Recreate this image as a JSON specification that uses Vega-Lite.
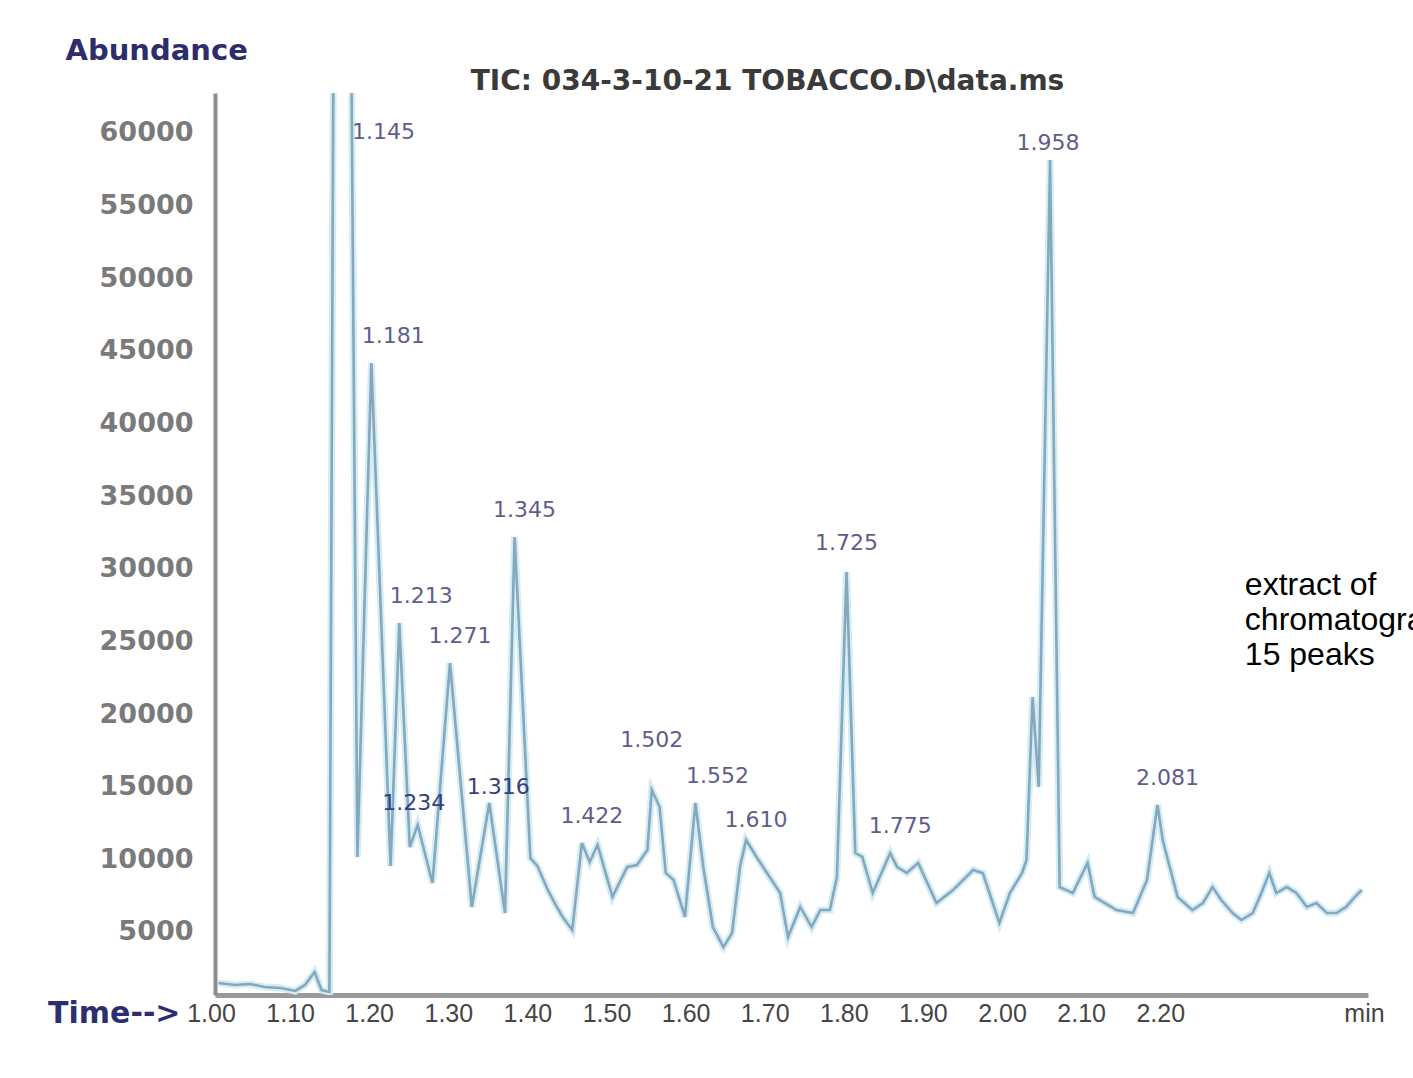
{
  "$schema": "https://vega.github.io/schema/vega-lite/v6.json",
  "autosize": {"type": "none"},
  "width": 1153,
  "height": 902,
  "padding": {"left": 215, "top": 93, "right": 45, "bottom": 83},
  "background": "white",
  "config": {"view": {"stroke": null}, "text": {"font": "DejaVu Sans", "fontSize": 22, "color": "#5e5e8a", "baseline": "middle", "align": "center"}},
  "title": {"text": "TIC: 034-3-10-21 TOBACCO.D\\data.ms", "font": "DejaVu Sans", "fontSize": 28, "fontWeight": "bold", "color": "#3a3a3a", "anchor": "middle", "frame": "group", "dx": -24, "dy": 84, "offset": 2, "baseline": "alphabetic"},
  "datasets": {
    "tic": [
      {"t": 1.006, "a": 1490}, {"t": 1.025, "a": 1350}, {"t": 1.042, "a": 1420}, {"t": 1.059, "a": 1210},
      {"t": 1.077, "a": 1140}, {"t": 1.094, "a": 940}, {"t": 1.105, "a": 1350}, {"t": 1.116, "a": 2240},
      {"t": 1.124, "a": 1000}, {"t": 1.133, "a": 870}, {"t": 1.145, "a": 170000}, {"t": 1.165, "a": 10160},
      {"t": 1.181, "a": 44160}, {"t": 1.203, "a": 9540}, {"t": 1.213, "a": 26270}, {"t": 1.225, "a": 10850},
      {"t": 1.234, "a": 12360}, {"t": 1.251, "a": 8370}, {"t": 1.271, "a": 23510}, {"t": 1.296, "a": 6720},
      {"t": 1.316, "a": 13880}, {"t": 1.334, "a": 6300}, {"t": 1.345, "a": 32190}, {"t": 1.363, "a": 10090},
      {"t": 1.371, "a": 9550}, {"t": 1.383, "a": 7890}, {"t": 1.392, "a": 6860}, {"t": 1.400, "a": 6030},
      {"t": 1.411, "a": 5130}, {"t": 1.422, "a": 11120}, {"t": 1.431, "a": 9820}, {"t": 1.440, "a": 10990},
      {"t": 1.457, "a": 7410}, {"t": 1.474, "a": 9470}, {"t": 1.485, "a": 9610}, {"t": 1.497, "a": 10640},
      {"t": 1.502, "a": 14770}, {"t": 1.511, "a": 13600}, {"t": 1.518, "a": 9060}, {"t": 1.527, "a": 8580},
      {"t": 1.540, "a": 6030}, {"t": 1.552, "a": 13880}, {"t": 1.561, "a": 9470}, {"t": 1.572, "a": 5340},
      {"t": 1.584, "a": 3960}, {"t": 1.594, "a": 4930}, {"t": 1.603, "a": 9470}, {"t": 1.610, "a": 11330},
      {"t": 1.622, "a": 10160}, {"t": 1.634, "a": 9060}, {"t": 1.649, "a": 7680}, {"t": 1.658, "a": 4650},
      {"t": 1.672, "a": 6720}, {"t": 1.685, "a": 5340}, {"t": 1.695, "a": 6510}, {"t": 1.706, "a": 6510},
      {"t": 1.714, "a": 8780}, {"t": 1.725, "a": 29780}, {"t": 1.735, "a": 10430}, {"t": 1.743, "a": 10160},
      {"t": 1.755, "a": 7680}, {"t": 1.775, "a": 10430}, {"t": 1.783, "a": 9470}, {"t": 1.794, "a": 9060},
      {"t": 1.807, "a": 9750}, {"t": 1.828, "a": 6990}, {"t": 1.847, "a": 7890}, {"t": 1.870, "a": 9260},
      {"t": 1.881, "a": 9060}, {"t": 1.900, "a": 5620}, {"t": 1.912, "a": 7680}, {"t": 1.926, "a": 9060},
      {"t": 1.931, "a": 9950}, {"t": 1.938, "a": 21170}, {"t": 1.945, "a": 14980}, {"t": 1.958, "a": 58130},
      {"t": 1.969, "a": 8090}, {"t": 1.984, "a": 7680}, {"t": 2.001, "a": 9750}, {"t": 2.009, "a": 7410},
      {"t": 2.034, "a": 6510}, {"t": 2.053, "a": 6300}, {"t": 2.069, "a": 8580}, {"t": 2.081, "a": 13740},
      {"t": 2.087, "a": 11330}, {"t": 2.095, "a": 9470}, {"t": 2.104, "a": 7410}, {"t": 2.121, "a": 6510},
      {"t": 2.133, "a": 6990}, {"t": 2.144, "a": 8090}, {"t": 2.154, "a": 7200}, {"t": 2.167, "a": 6300},
      {"t": 2.177, "a": 5820}, {"t": 2.190, "a": 6300}, {"t": 2.200, "a": 7680}, {"t": 2.209, "a": 9060},
      {"t": 2.217, "a": 7680}, {"t": 2.229, "a": 8090}, {"t": 2.240, "a": 7680}, {"t": 2.252, "a": 6720},
      {"t": 2.263, "a": 6990}, {"t": 2.275, "a": 6300}, {"t": 2.286, "a": 6300}, {"t": 2.297, "a": 6720},
      {"t": 2.307, "a": 7410}, {"t": 2.315, "a": 7890}
    ],
    "peaks": [
      {"rt": 1.145, "apex": 170000}, {"rt": 1.181, "apex": 44160}, {"rt": 1.213, "apex": 26270},
      {"rt": 1.234, "apex": 12360}, {"rt": 1.271, "apex": 23510}, {"rt": 1.316, "apex": 13880},
      {"rt": 1.345, "apex": 32190}, {"rt": 1.422, "apex": 11120}, {"rt": 1.502, "apex": 14770},
      {"rt": 1.552, "apex": 13880}, {"rt": 1.610, "apex": 11330}, {"rt": 1.725, "apex": 29780},
      {"rt": 1.775, "apex": 10430}, {"rt": 1.958, "apex": 58130}, {"rt": 2.081, "apex": 13740}
    ]
  },
  "layer": [
    {
      "data": {"name": "tic"},
      "mark": {"type": "line", "clip": true, "stroke": "#d4ecf6", "strokeWidth": 7},
      "encoding": {
        "x": {"field": "t", "type": "quantitative",
          "scale": {"domain": [1.002, 2.322], "nice": false, "zero": false},
          "axis": {
            "values": [1.002, 1.0926, 1.1831, 1.2737, 1.3642, 1.4548, 1.5454, 1.6359, 1.7265, 1.817, 1.9076, 1.9982, 2.0887, 2.322],
            "labelExpr": "datum.value > 2.3 ? 'min' : format(1 + round((datum.value - 1.002) / 0.09056) / 10, '.2f')",
            "grid": false, "ticks": false, "tickSize": 0,
            "domainColor": "#9a9a9a", "domainWidth": 5,
            "labelFont": "Liberation Sans", "labelFontSize": 25, "labelColor": "#454545",
            "labelBaseline": "middle", "labelPadding": 18, "labelOffset": -4,
            "labelFlush": false, "labelOverlap": false, "labelBound": false,
            "title": "Time-->", "titleFont": "DejaVu Sans", "titleFontSize": 30, "titleFontWeight": "bold",
            "titleColor": "#2d2d72", "titleAlign": "right", "titleAnchor": "start", "titleBaseline": "middle",
            "titleX": -35, "titleY": 18
          }},
        "y": {"field": "a", "type": "quantitative",
          "scale": {"domain": [660, 62750], "nice": false, "zero": false},
          "axis": {
            "values": [5000, 10000, 15000, 20000, 25000, 30000, 35000, 40000, 45000, 50000, 55000, 60000],
            "format": "d",
            "grid": false, "ticks": false, "tickSize": 0,
            "domainColor": "#8c8c8c", "domainWidth": 4,
            "labelFont": "DejaVu Sans", "labelFontSize": 27, "labelFontWeight": "bold", "labelColor": "#7a7a7a",
            "labelPadding": 22, "labelFlush": false, "labelOverlap": false, "labelBound": false,
            "title": "Abundance", "titleFont": "DejaVu Sans", "titleFontSize": 29, "titleFontWeight": "bold",
            "titleColor": "#2d2d6e", "titleAngle": 0, "titleAlign": "left", "titleBaseline": "middle",
            "titleX": -150, "titleY": -43
          }}
      }
    },
    {
      "data": {"name": "tic"},
      "mark": {"type": "line", "clip": true, "stroke": "#85a8bb", "strokeWidth": 2.6},
      "encoding": {
        "x": {"field": "t", "type": "quantitative"},
        "y": {"field": "a", "type": "quantitative"}
      }
    },
    {
      "data": {"name": "peaks"},
      "transform": [{"filter": "indexof([1.271, 1.345, 1.422, 1.775, 2.081], datum.rt) >= 0"}],
      "mark": {"type": "text", "dx": 10, "dy": -27},
      "encoding": {
        "x": {"field": "rt", "type": "quantitative"},
        "y": {"field": "apex", "type": "quantitative"},
        "text": {"field": "rt", "type": "quantitative", "format": ".3f"}
      }
    },
    {
      "data": {"name": "peaks"},
      "transform": [{"filter": "indexof([1.181, 1.213, 1.552], datum.rt) >= 0"}],
      "mark": {"type": "text", "dx": 22, "dy": -27},
      "encoding": {
        "x": {"field": "rt", "type": "quantitative"},
        "y": {"field": "apex", "type": "quantitative"},
        "text": {"field": "rt", "type": "quantitative", "format": ".3f"}
      }
    },
    {
      "data": {"name": "peaks"},
      "transform": [{"filter": "datum.rt == 1.725"}],
      "mark": {"type": "text", "dx": 0, "dy": -29},
      "encoding": {
        "x": {"field": "rt", "type": "quantitative"},
        "y": {"field": "apex", "type": "quantitative"},
        "text": {"field": "rt", "type": "quantitative", "format": ".3f"}
      }
    },
    {
      "data": {"name": "peaks"},
      "transform": [{"filter": "datum.rt == 1.958"}],
      "mark": {"type": "text", "dx": -2, "dy": -17},
      "encoding": {
        "x": {"field": "rt", "type": "quantitative"},
        "y": {"field": "apex", "type": "quantitative"},
        "text": {"field": "rt", "type": "quantitative", "format": ".3f"}
      }
    },
    {
      "data": {"name": "peaks"},
      "transform": [{"filter": "datum.rt == 1.502"}],
      "mark": {"type": "text", "dx": 0, "dy": -50},
      "encoding": {
        "x": {"field": "rt", "type": "quantitative"},
        "y": {"field": "apex", "type": "quantitative"},
        "text": {"field": "rt", "type": "quantitative", "format": ".3f"}
      }
    },
    {
      "data": {"name": "peaks"},
      "transform": [{"filter": "datum.rt == 1.610"}],
      "mark": {"type": "text", "dx": 10, "dy": -20},
      "encoding": {
        "x": {"field": "rt", "type": "quantitative"},
        "y": {"field": "apex", "type": "quantitative"},
        "text": {"field": "rt", "type": "quantitative", "format": ".3f"}
      }
    },
    {
      "data": {"name": "peaks"},
      "transform": [{"filter": "datum.rt == 1.234"}],
      "mark": {"type": "text", "dx": -4, "dy": -22, "color": "#34407e"},
      "encoding": {
        "x": {"field": "rt", "type": "quantitative"},
        "y": {"field": "apex", "type": "quantitative"},
        "text": {"field": "rt", "type": "quantitative", "format": ".3f"}
      }
    },
    {
      "data": {"name": "peaks"},
      "transform": [{"filter": "datum.rt == 1.316"}],
      "mark": {"type": "text", "dx": 9, "dy": -16, "color": "#34407e"},
      "encoding": {
        "x": {"field": "rt", "type": "quantitative"},
        "y": {"field": "apex", "type": "quantitative"},
        "text": {"field": "rt", "type": "quantitative", "format": ".3f"}
      }
    },
    {
      "data": {"name": "peaks"},
      "transform": [{"filter": "datum.apex > 62750"}],
      "mark": {"type": "text", "align": "left", "dx": 12},
      "encoding": {
        "x": {"field": "rt", "type": "quantitative"},
        "y": {"datum": 60080, "type": "quantitative"},
        "text": {"field": "rt", "type": "quantitative", "format": ".3f"}
      }
    },
    {
      "data": {"values": [{}]},
      "mark": {"type": "text", "font": "Liberation Sans", "fontSize": 32, "color": "#000000", "align": "left", "baseline": "middle", "lineHeight": 35, "clip": false},
      "encoding": {
        "x": {"datum": 2.181, "type": "quantitative"},
        "y": {"datum": 28880, "type": "quantitative"},
        "text": {"value": ["extract of", "chromatogram", "15 peaks"]}
      }
    }
  ]
}
